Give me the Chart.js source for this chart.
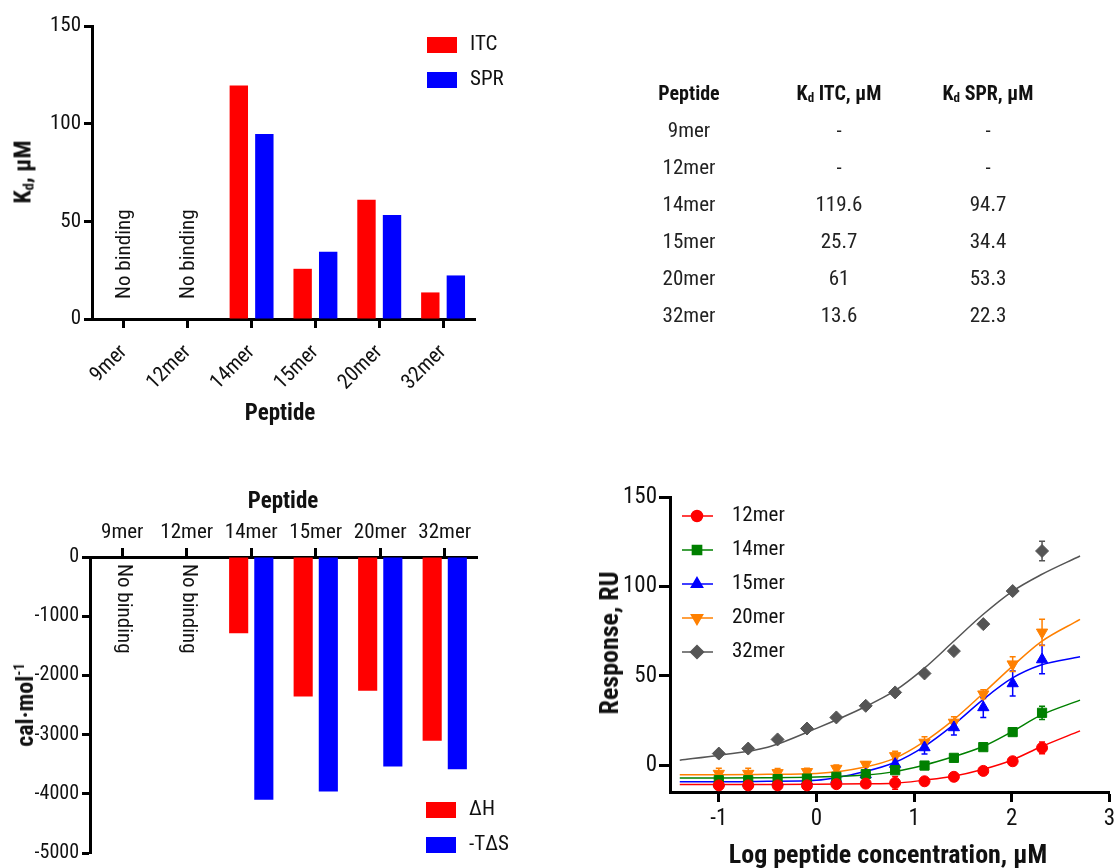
<!DOCTYPE html>
<html>
<head>
<meta charset="utf-8">
<script src="https://cdn.jsdelivr.net/npm/chart.js@4/dist/chart.umd.min.js"></script>
<style>
  body { margin: 0; background: #fff; }
  #page { position: relative; width: 1118px; height: 868px; overflow: hidden;
          font-family: 'Roboto Condensed', Roboto, 'Liberation Sans', sans-serif; color: #111; }
  .panel { position: absolute; }
  .title { position: absolute; font-weight: bold; white-space: nowrap; transform: translate(-50%, -50%); }
  .rot { transform: translate(-50%, -50%) rotate(-90deg); }
  .title sub { font-size: 60%; vertical-align: -3px; }
  .title sup { font-size: 60%; vertical-align: 9px; }
  #kdTable { position: absolute; left: 599px; top: 74px; border-collapse: collapse; }
  #kdTable th, #kdTable td { padding: 0; height: 37px; text-align: center; }
  #kdTable th { font-size: 20px; font-weight: bold; }
  #kdTable td { font-size: 21px; color: #222; }
  #kdTable sub { font-size: 13px; vertical-align: -2px; }
</style>
</head>
<body>
<div id="page">
  <div class="panel" style="left:0;top:0"><canvas id="kdChart" width="600" height="440"></canvas></div>
  <div class="title rot" style="left:23px;top:172px;font-size:24px">K<sub>d</sub>, µM</div>
  <div class="title" style="left:280px;top:412px;font-size:23px">Peptide</div>

  <table id="kdTable">
    <colgroup><col style="width:180px"><col style="width:120px"><col style="width:178px"></colgroup>
    <thead><tr><th>Peptide</th><th>K<sub>d</sub> ITC, µM</th><th>K<sub>d</sub> SPR, µM</th></tr></thead>
    <tbody id="kdRows"></tbody>
  </table>

  <div class="panel" style="left:0;top:470px"><canvas id="energyChart" width="600" height="398"></canvas></div>
  <div class="title" style="left:283px;top:500px;font-size:23px">Peptide</div>
  <div class="title rot" style="left:25px;top:705px;font-size:24px">cal·mol<sup>-1</sup></div>

  <div class="panel" style="left:590px;top:480px"><canvas id="sprChart" width="528" height="388"></canvas></div>
  <div class="title rot" style="left:609px;top:643px;font-size:26px">Response, RU</div>
  <div class="title" style="left:888px;top:854px;font-size:26px">Log peptide concentration, µM</div>
</div>

<script>
// Data peptida
const peptides = ['9mer', '12mer', '14mer', '15mer', '20mer', '32mer'];
const noBinding = ['9mer', '12mer'];
const kdITC = [null, null, 119.6, 25.7, 61, 13.6];
const kdSPR = [null, null, 94.7, 34.4, 53.3, 22.3];
const deltaH = [null, null, -1290, -2355, -2260, -3105];
const minusTdS = [null, null, -4100, -3960, -3540, -3585];

// Tick labels
const kdTicks = [0, 50, 100, 150];
const energyTicks = [0, -1000, -2000, -3000, -4000, -5000];
const respTicks = [0, 50, 100, 150];
const logTicks = [-1, 0, 1, 2, 3];

// SPR titrasi (log uM) dan respon (RU)
const logConc = [-1, -0.699, -0.398, -0.097, 0.204, 0.505, 0.806, 1.107, 1.408, 1.709, 2.010, 2.311];
const resp12 = [-11.3, -11.3, -11.3, -11.3, -10.6, -10.3, -9.9, -9.0, -6.5, -3.2, 2.2, 9.7];
const err12 = [2, 2, 2, 2, 2, 2, 3.5, 2, 2, 2, 2, 3.3];
const resp14 = [-8.4, -8.4, -7.8, -7.5, -6.5, -5.0, -2.8, -0.2, 4.1, 10.1, 18.5, 29.3];
const err14 = [1.5, 1.5, 1.5, 1.5, 1.5, 1.5, 1.5, 1, 1, 1, 1.5, 3.7];
const resp15 = [-9.9, -9.9, -9.3, -8.8, -7.8, -5.2, 0.6, 9.9, 21.1, 32.3, 45.7, 59.1];
const err15 = [2, 2, 2, 2, 2, 2, 3, 3.7, 4.2, 5.6, 7, 8];
const resp20 = [-4.7, -4.7, -4.3, -3.7, -1.9, 0.4, 5.2, 12.7, 23.9, 39.7, 56.5, 74.3];
const err20 = [3, 3, 2.5, 2, 2, 1.5, 2.6, 3.2, 3.2, 2.5, 4.1, 7.3];
const resp32 = [6.5, 9.3, 14.4, 20.5, 26.7, 33.2, 40.7, 51.3, 63.8, 78.9, 97.4, 119.8];
const err32 = [0, 0, 0, 0, 0, 0, 0, 0, 0, 0, 0, 5.5];

// Kurva fit
const fitLog = [-1.4, -1.0, -0.5, 0, 0.5, 0.8, 1.1, 1.4, 1.7, 2.0, 2.3, 2.7];
const fit12 = [-10.8, -10.8, -10.8, -10.7, -10.4, -10.1, -8.4, -6.2, -2.4, 2.8, 10.3, 19.2];
const fit14 = [-7.1, -7.1, -7.0, -6.6, -5.5, -3.6, 0, 4.7, 10.3, 18.7, 28, 36.4];
const fit15 = [-9.3, -9.3, -9.0, -8.4, -3.5, 1.5, 10.3, 22.4, 36.4, 48.5, 56, 60.6];
const fit20 = [-5.3, -5.3, -5.1, -4.6, -1.0, 3.8, 13, 25.2, 39.8, 55, 69, 81.5];
const fit32 = [2.8, 5.6, 10, 20.6, 32.7, 41.5, 54, 69, 84, 97, 106.5, 117];

const FONT = "'Roboto Condensed', Roboto, 'Liberation Sans', sans-serif";
Chart.defaults.font.family = FONT;
Chart.defaults.color = '#111';
Chart.defaults.animation = false;

// Tabel Kd
const rows = document.getElementById('kdRows');
peptides.forEach((p, i) => {
  const tr = document.createElement('tr');
  [p, kdITC[i] === null ? '-' : kdITC[i], kdSPR[i] === null ? '-' : kdSPR[i]].forEach(v => {
    const td = document.createElement('td');
    td.textContent = v;
    tr.appendChild(td);
  });
  rows.appendChild(tr);
});

// Gaya sumbu hitam tebal dengan tick di luar
function axisStyle(tickLength) {
  return {
    border: { color: '#000', width: 3 },
    grid: { drawOnChartArea: false, drawTicks: true, tickLength: tickLength, tickWidth: 3, tickColor: '#000', offset: false },
  };
}

// Plugin untuk legenda di dalam plot, teks "No binding" dan error bar
function notesPlugin(cfg) {
  return {
    id: 'notes',
    beforeDatasetsDraw(chart) {
      const ctx = chart.ctx;
      const yScale = chart.scales.y;
      chart.data.datasets.forEach((ds, i) => {
        if (!ds.errors) return;
        const meta = chart.getDatasetMeta(i);
        ctx.save();
        ctx.strokeStyle = ds.backgroundColor;
        ctx.lineWidth = 1.5;
        meta.data.forEach((el, j) => {
          const e = ds.errors[j];
          if (!e) return;
          const v = ds.data[j].y;
          const y1 = yScale.getPixelForValue(v + e);
          const y2 = yScale.getPixelForValue(v - e);
          ctx.beginPath();
          ctx.moveTo(el.x, y1); ctx.lineTo(el.x, y2);
          ctx.moveTo(el.x - 3, y1); ctx.lineTo(el.x + 3, y1);
          ctx.moveTo(el.x - 3, y2); ctx.lineTo(el.x + 3, y2);
          ctx.stroke();
        });
        ctx.restore();
      });
    },
    afterDraw(chart) {
      const ctx = chart.ctx;
      ctx.save();
      ctx.fillStyle = '#111';
      ctx.font = '21px ' + FONT;
      ctx.textBaseline = 'middle';

      if (cfg.noBinding) {
        const y0 = chart.scales.y.getPixelForValue(0) + cfg.noBinding.dy;
        noBinding.forEach(p => {
          const x = chart.scales.x.getPixelForValue(peptides.indexOf(p)) + 1;
          ctx.save();
          ctx.translate(x, y0);
          ctx.rotate(cfg.noBinding.angle);
          ctx.textAlign = 'left';
          ctx.fillText('No binding', 0, 0);
          ctx.restore();
        });
      }

      if (cfg.boxLegend) {
        const L = cfg.boxLegend;
        chart.data.datasets.forEach((ds, i) => {
          const y = L.y + i * L.step;
          ctx.fillStyle = ds.backgroundColor;
          ctx.fillRect(L.x, y, 30, 16);
          ctx.fillStyle = '#111';
          ctx.textAlign = 'left';
          ctx.fillText(ds.label, L.x + 43, y + 8);
        });
      }

      if (cfg.lineLegend) {
        const L = cfg.lineLegend;
        chart.data.datasets.filter(ds => !ds.showLine).forEach((ds, i) => {
          const y = L.y + i * L.step;
          ctx.strokeStyle = ds.borderColor;
          ctx.fillStyle = ds.backgroundColor;
          ctx.lineWidth = 1.5;
          ctx.beginPath();
          ctx.moveTo(L.x, y); ctx.lineTo(L.x + 31, y);
          ctx.stroke();
          Chart.helpers.drawPoint(ctx, {
            pointStyle: ds.pointStyle, rotation: ds.pointRotation || 0,
            radius: ds.pointRadius, borderWidth: 1
          }, L.x + 15, y);
          ctx.fillStyle = '#111';
          ctx.textAlign = 'left';
          ctx.fillText(ds.label, L.x + 50, y);
        });
      }
      ctx.restore();
    }
  };
}

// Grafik Kd (ITC vs SPR)
const kdChart = new Chart(document.getElementById('kdChart'), {
  type: 'bar',
  data: {
    labels: peptides,
    datasets: [
      { label: 'ITC', data: kdITC, backgroundColor: '#ff0000', barPercentage: 0.72, categoryPercentage: 0.8 },
      { label: 'SPR', data: kdSPR, backgroundColor: '#0000ff', barPercentage: 0.72, categoryPercentage: 0.8 },
    ],
  },
  options: {
    responsive: false,
    layout: { padding: { left: 0, top: 26, right: 125, bottom: 0 } },
    plugins: { legend: { display: false }, tooltip: { enabled: false } },
    scales: {
      x: {
        ...axisStyle(9),
        ticks: { font: { size: 21 }, minRotation: 45, maxRotation: 45, padding: 12 },
        afterFit: s => { s.height = 121; },
      },
      y: {
        ...axisStyle(8),
        min: 0, max: 150,
        afterBuildTicks: s => { s.ticks = kdTicks.map(v => ({ value: v })); },
        ticks: { font: { size: 21 }, padding: 3 },
        afterFit: s => { s.width = 92; },
      },
    },
  },
  plugins: [notesPlugin({ noBinding: { dy: -20, angle: -Math.PI / 2 }, boxLegend: { x: 427, y: 37, step: 35 } })],
});

// Grafik termodinamika (dH dan -TdS)
const energyChart = new Chart(document.getElementById('energyChart'), {
  type: 'bar',
  data: {
    labels: peptides,
    datasets: [
      { label: 'ΔH', data: deltaH, backgroundColor: '#ff0000', barPercentage: 0.76, categoryPercentage: 0.78 },
      { label: '-TΔS', data: minusTdS, backgroundColor: '#0000ff', barPercentage: 0.76, categoryPercentage: 0.78 },
    ],
  },
  options: {
    responsive: false,
    layout: { padding: { left: 0, top: 0, right: 123, bottom: 15 } },
    plugins: { legend: { display: false }, tooltip: { enabled: false } },
    scales: {
      x: {
        ...axisStyle(9),
        position: 'top',
        ticks: { font: { size: 21 }, maxRotation: 0, padding: 3 },
        afterFit: s => { s.height = 87; },
      },
      y: {
        ...axisStyle(8),
        min: -5000, max: 0,
        afterBuildTicks: s => { s.ticks = energyTicks.map(v => ({ value: v })); },
        ticks: { font: { size: 20 }, padding: 3, callback: v => String(v) },
        afterFit: s => { s.width = 90; },
      },
    },
  },
  plugins: [notesPlugin({ noBinding: { dy: 7, angle: Math.PI / 2 }, boxLegend: { x: 426, y: 332, step: 35 } })],
});

// Grafik SPR: titik data + kurva fit
const series = [
  { label: '12mer', resp: resp12, err: err12, fit: fit12, color: '#ff0000', style: 'circle', radius: 5.5, rot: 0 },
  { label: '14mer', resp: resp14, err: err14, fit: fit14, color: '#008000', style: 'rect', radius: 6.5, rot: 0 },
  { label: '15mer', resp: resp15, err: err15, fit: fit15, color: '#0000ff', style: 'triangle', radius: 6.5, rot: 0 },
  { label: '20mer', resp: resp20, err: err20, fit: fit20, color: '#ff8000', style: 'triangle', radius: 6.5, rot: 180 },
  { label: '32mer', resp: resp32, err: err32, fit: fit32, color: '#555555', style: 'rectRot', radius: 6.5, rot: 0 },
];

const sprDatasets = [];
series.forEach(s => {
  sprDatasets.push({
    label: s.label + ' fit',
    data: fitLog.map((x, i) => ({ x: x, y: s.fit[i] })),
    showLine: true, pointRadius: 0, borderColor: s.color, borderWidth: 1.5,
    cubicInterpolationMode: 'monotone', order: 2,
  });
});
series.forEach(s => {
  sprDatasets.push({
    label: s.label,
    data: logConc.map((x, i) => ({ x: x, y: s.resp[i] })),
    errors: s.err,
    showLine: false, pointStyle: s.style, pointRotation: s.rot, pointRadius: s.radius,
    backgroundColor: s.color, borderColor: s.color, borderWidth: 1, order: 1,
  });
});

const sprChart = new Chart(document.getElementById('sprChart'), {
  type: 'scatter',
  data: { datasets: sprDatasets },
  options: {
    responsive: false,
    layout: { padding: { left: 0, top: 17, right: 6, bottom: 0 } },
    plugins: { legend: { display: false }, tooltip: { enabled: false } },
    scales: {
      x: {
        ...axisStyle(10),
        min: -1.5, max: 3,
        afterBuildTicks: s => { s.ticks = logTicks.map(v => ({ value: v })); },
        ticks: { font: { size: 23 }, padding: 3 },
        afterFit: s => { s.height = 76; },
      },
      y: {
        ...axisStyle(11),
        min: -15, max: 150,
        afterBuildTicks: s => { s.ticks = respTicks.map(v => ({ value: v })); },
        ticks: { font: { size: 23 }, padding: 2 },
        afterFit: s => { s.width = 80; },
      },
    },
  },
  plugins: [notesPlugin({ lineLegend: { x: 92, y: 36, step: 34 } })],
});
</script>
</body>
</html>
